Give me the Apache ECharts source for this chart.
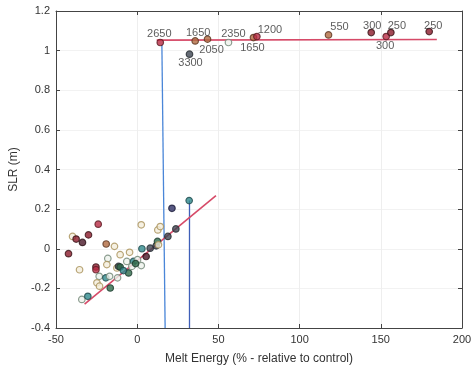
<!DOCTYPE html>
<html>
<head>
<meta charset="utf-8">
<script src="https://cdn.jsdelivr.net/npm/echarts@6/dist/echarts.min.js"></script>
<style>html,body{margin:0;padding:0;background:#fff}#c{width:476px;height:370px}</style>
</head>
<body>
<div id="c"></div>
<script>
// ---- data ----
const xTicks = [-50, 0, 50, 100, 150, 200];
const yTicks = [-0.4, -0.2, 0, 0.2, 0.4, 0.6, 0.8, 1, 1.2];

const topX = [14.2, 35.7, 43.3, 32.2, 56.2, 71.6, 73.7, 117.8, 144.1, 153.3, 156.2, 179.8];
const topY = [1.041, 1.049, 1.058, 0.982, 1.041, 1.066, 1.071, 1.079, 1.091, 1.071, 1.091, 1.096];
const topLabels = ['2650', '1650', '2050', '3300', '2350', '1650', '1200', '550', '300', '300', '250', '250'];
const topGroup = [1, 9, 9, 6, 8, 9, 1, 9, 0, 1, 0, 0];

const lowX = [-42.3, -39.8, -37.6, -33.7, -30.0, -24.0, -35.5, -34.1, -30.4, -25.4, -25.4, -19.1, -14.0, -18.1, -23.4, -24.8, -23.2, -19.3, -16.6, -17.0, -12.5, -11.5, -10.5, -12.1, -10.5, -4.7, -6.4, -5.3, -2.3, -3.3, 0.2, 2.5, 2.9, 2.5, 5.5, 8.0, 11.7, 12.5, 12.7, 14.2, 13.1, 18.9, 21.4, 23.8, 32.0, -18.7, -8.5, -1.0];
const lowY = [-0.025, 0.062, 0.049, 0.032, 0.070, 0.124, -0.106, -0.256, -0.240, -0.092, -0.106, 0.024, 0.012, -0.049, -0.139, -0.172, -0.189, -0.147, -0.198, -0.139, -0.097, -0.089, -0.030, -0.147, -0.092, -0.018, -0.064, -0.122, -0.064, -0.089, -0.055, 0.121, 0.000, -0.085, -0.039, 0.003, 0.015, 0.037, 0.095, 0.112, 0.020, 0.062, 0.204, 0.100, 0.243, -0.080, -0.110, -0.075];
const lowGroup = [0, 3, 0, 2, 0, 1, 3, 8, 4, 0, 1, 9, 3, 8, 8, 3, 3, 4, 5, 8, 3, 6, 3, 8, 5, 3, 8, 5, 4, 8, 8, 3, 4, 8, 2, 6, 6, 5, 3, 3, 3, 6, 7, 6, 4, 3, 4, 5];

const topFitX = [12, 184.5];
const topFitY = [1.053, 1.056];
const lowFitX = [-32.4, 48.5];
const lowFitY = [-0.28, 0.268];
const blue1X = [15.2, 17.2];
const blue1Y = [1.03, -0.4];
const blue2X = [32.2, 32.2];
const blue2Y = [0.243, -0.4];

// ---- style ----
const palette = [
  {f: '#8b1a2b', e: '#3a1418'},
  {f: '#b82a44', e: '#5a1a22'},
  {f: '#4a1828', e: '#2a1015'},
  {f: '#f4eedc', e: '#a89058'},
  {f: '#2f8a8c', e: '#1f4a4c'},
  {f: '#2e6a4a', e: '#1c3a2c'},
  {f: '#3e4652', e: '#242a30'},
  {f: '#2e3064', e: '#1c1c3a'},
  {f: '#eef2ec', e: '#6f8474'},
  {f: '#b06a40', e: '#5a3420'}
];
const labelOffsets = [[-1,-9],[3,-8],[4,11],[1,9],[5,-9],[-1,10],[13,-7],[11,-8],[1,-7],[-1,9],[6,-7],[4,-6]];

function pt(x, y, g) {
  return {value: [x, y], itemStyle: {color: palette[g].f, borderColor: palette[g].e, borderWidth: 1.2}};
}
const lowData = lowX.map((x, i) => pt(x, lowY[i], lowGroup[i]));
const topData = topX.map((x, i) => {
  const d = pt(x, topY[i], topGroup[i]);
  d.label = {show: true, formatter: topLabels[i], position: 'inside', offset: labelOffsets[i],
    color: '#333', fontSize: 11, fontFamily: 'Liberation Sans, Arial, sans-serif'};
  return d;
});
function line(xs, ys, color, w) {
  return {type: 'line', data: xs.map((x, i) => [x, ys[i]]), showSymbol: false, symbol: 'none',
    lineStyle: {color: color, width: w}, silent: true, z: 2, animation: false};
}

const font = 'Liberation Sans, Arial, sans-serif';
const axisCommon = {
  axisLine: {show: true, onZero: false, lineStyle: {color: '#444', width: 1}},
  axisTick: {show: true, inside: true, length: 4, lineStyle: {color: '#444'}},
  splitLine: {show: false}
};

const chart = echarts.init(document.getElementById('c'), null, {renderer: 'canvas'});
chart.setOption({
  animation: false,
  backgroundColor: '#fff',
  grid: {left: 56, right: 14, top: 11, bottom: 40, containLabel: false},
  xAxis: [
    Object.assign({}, axisCommon, {
      type: 'value', min: xTicks[0], max: xTicks[xTicks.length - 1], interval: 50,
      name: 'Melt Energy (% - relative to control)', nameLocation: 'middle', nameGap: 25,
      nameTextStyle: {color: '#333', fontSize: 12, fontFamily: font},
      axisLabel: {color: '#333', fontSize: 11, fontFamily: font, margin: 6},
      splitLine: {show: true, lineStyle: {color: '#eeeeee', width: 1}}
    }),
    Object.assign({}, axisCommon, {
      type: 'value', position: 'top', min: xTicks[0], max: xTicks[xTicks.length - 1], interval: 50,
      axisLabel: {show: false}
    })
  ],
  yAxis: [
    Object.assign({}, axisCommon, {
      type: 'value', min: yTicks[0], max: yTicks[yTicks.length - 1], interval: 0.2,
      name: 'SLR (m)', nameLocation: 'middle', nameGap: 33, nameRotate: 90,
      nameTextStyle: {color: '#333', fontSize: 12, fontFamily: font},
      axisLabel: {color: '#333', fontSize: 11, fontFamily: font, margin: 6,
        formatter: v => String(Math.round(v * 10) / 10)},
      splitLine: {show: true, lineStyle: {color: '#f2f2f2', width: 1}}
    }),
    Object.assign({}, axisCommon, {
      type: 'value', position: 'right', min: yTicks[0], max: yTicks[yTicks.length - 1], interval: 0.2,
      axisLabel: {show: false}
    })
  ],
  series: [
    line(blue1X, blue1Y, '#4a86d8', 1.3),
    line(blue2X, blue2Y, '#3f5fb8', 1.3),
    line(topFitX, topFitY, '#d64a68', 1.6),
    line(lowFitX, lowFitY, '#d64a68', 1.6),
    {type: 'scatter', data: lowData, symbolSize: 6.5, z: 3, animation: false},
    {type: 'scatter', data: topData, symbolSize: 6.5, z: 4, animation: false}
  ]
});
</script>
</body>
</html>
